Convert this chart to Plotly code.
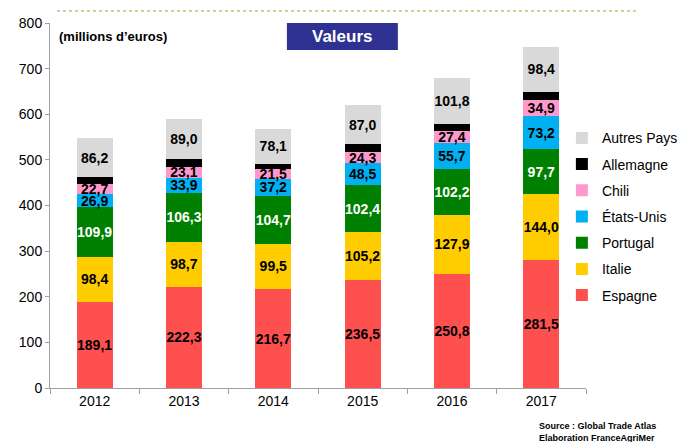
import plotly.graph_objects as go

years = ["2012", "2013", "2014", "2015", "2016", "2017"]
espagne = [189.1, 222.3, 216.7, 236.5, 250.8, 281.5]
italie = [98.4, 98.7, 99.5, 105.2, 127.9, 144.0]
portugal = [109.9, 106.3, 104.7, 102.4, 102.2, 97.7]
etats_unis = [26.9, 33.9, 37.2, 48.5, 55.7, 73.2]
chili = [22.7, 23.1, 21.5, 24.3, 27.4, 34.9]
allemagne = [15.0, 17.0, 11.0, 17.0, 14.0, 18.0]
autres = [86.2, 89.0, 78.1, 87.0, 101.8, 98.4]

series = [
    ("Espagne", espagne, "#FF5050", "#000000", True),
    ("Italie", italie, "#FFCC00", "#000000", True),
    ("Portugal", portugal, "#008000", "#FFFFFF", True),
    ("États-Unis", etats_unis, "#00B0F0", "#000000", True),
    ("Chili", chili, "#FF99CC", "#000000", True),
    ("Allemagne", allemagne, "#000000", "#000000", False),
    ("Autres Pays", autres, "#D9D9D9", "#000000", True),
]

FONT = "Liberation Sans, Arial, sans-serif"

fig = go.Figure()
n = len(series)
for i, (name, vals, col, tcol, lab) in enumerate(series):
    fig.add_trace(go.Bar(
        name=name, x=years, y=vals,
        marker=dict(color=col, line=dict(width=0)),
        text=[f"{v:.1f}".replace(".", ",") for v in vals] if lab else None,
        textposition="inside" if lab else "none",
        insidetextanchor="middle",
        textangle=0,
        constraintext="none",
        textfont=dict(family=FONT, size=14, color=tcol, weight="bold"),
        legendgroup=name,
        legendrank=n - i,
        hoverinfo="skip",
    ))

fig.update_layout(
    barmode="stack",
    bargap=0.6,
    width=681, height=442,
    margin=dict(l=50, r=95, t=23, b=54, autoexpand=False),
    plot_bgcolor="white", paper_bgcolor="white",
    font=dict(family=FONT, size=14, color="#000000"),
    showlegend=True,
    legend=dict(x=0.955, y=0.728, xanchor="left", yanchor="top",
                traceorder="grouped", tracegroupgap=5,
                font=dict(family=FONT, size=14, color="#000000"),
                bgcolor="rgba(0,0,0,0)", itemwidth=30),
    xaxis=dict(showline=True, linecolor="#A0A0A0", linewidth=1,
               ticks="outside", ticklen=5, tickcolor="#A0A0A0",
               tickson="boundaries", showgrid=False,
               tickfont=dict(family=FONT, size=14, color="#000000")),
    yaxis=dict(range=[0, 800], dtick=100, showline=True, linecolor="#A0A0A0",
               linewidth=1, ticks="outside", ticklen=4, tickcolor="#A0A0A0",
               showgrid=False, zeroline=False,
               tickfont=dict(family=FONT, size=14, color="#000000")),
    shapes=[
        dict(type="line", xref="paper", yref="paper", x0=0.013, x1=1.095,
             y0=1.033, y1=1.033, line=dict(color="#7FAF3A", width=1, dash="dot")),
        dict(type="rect", xref="paper", yref="paper", x0=0.442, x1=0.649,
             y0=0.926, y1=1.0, fillcolor="#2E3192", line=dict(width=0)),
    ],
    annotations=[
        dict(text="<b>(millions d’euros)</b>", xref="paper", yref="paper",
             x=0.013, y=0.99, xanchor="left", yanchor="top", showarrow=False,
             font=dict(family=FONT, size=13, color="#000000")),
        dict(text="<b>Valeurs</b>", xref="paper", yref="paper",
             x=0.5455, y=0.963, xanchor="center", yanchor="middle", showarrow=False,
             font=dict(family=FONT, size=17, color="#FFFFFF")),
        dict(text="<b>Source : Global Trade Atlas</b><br><b>Elaboration FranceAgriMer</b>",
             xref="paper", yref="paper", x=0.908, y=-0.085, xanchor="left",
             yanchor="top", align="left", showarrow=False,
             font=dict(family=FONT, size=9, color="#000000")),
    ],
)

fig.write_html("out.html", config={"displayModeBar": False},
               post_script="document.body.style.margin='0';document.body.style.overflow='hidden';")
